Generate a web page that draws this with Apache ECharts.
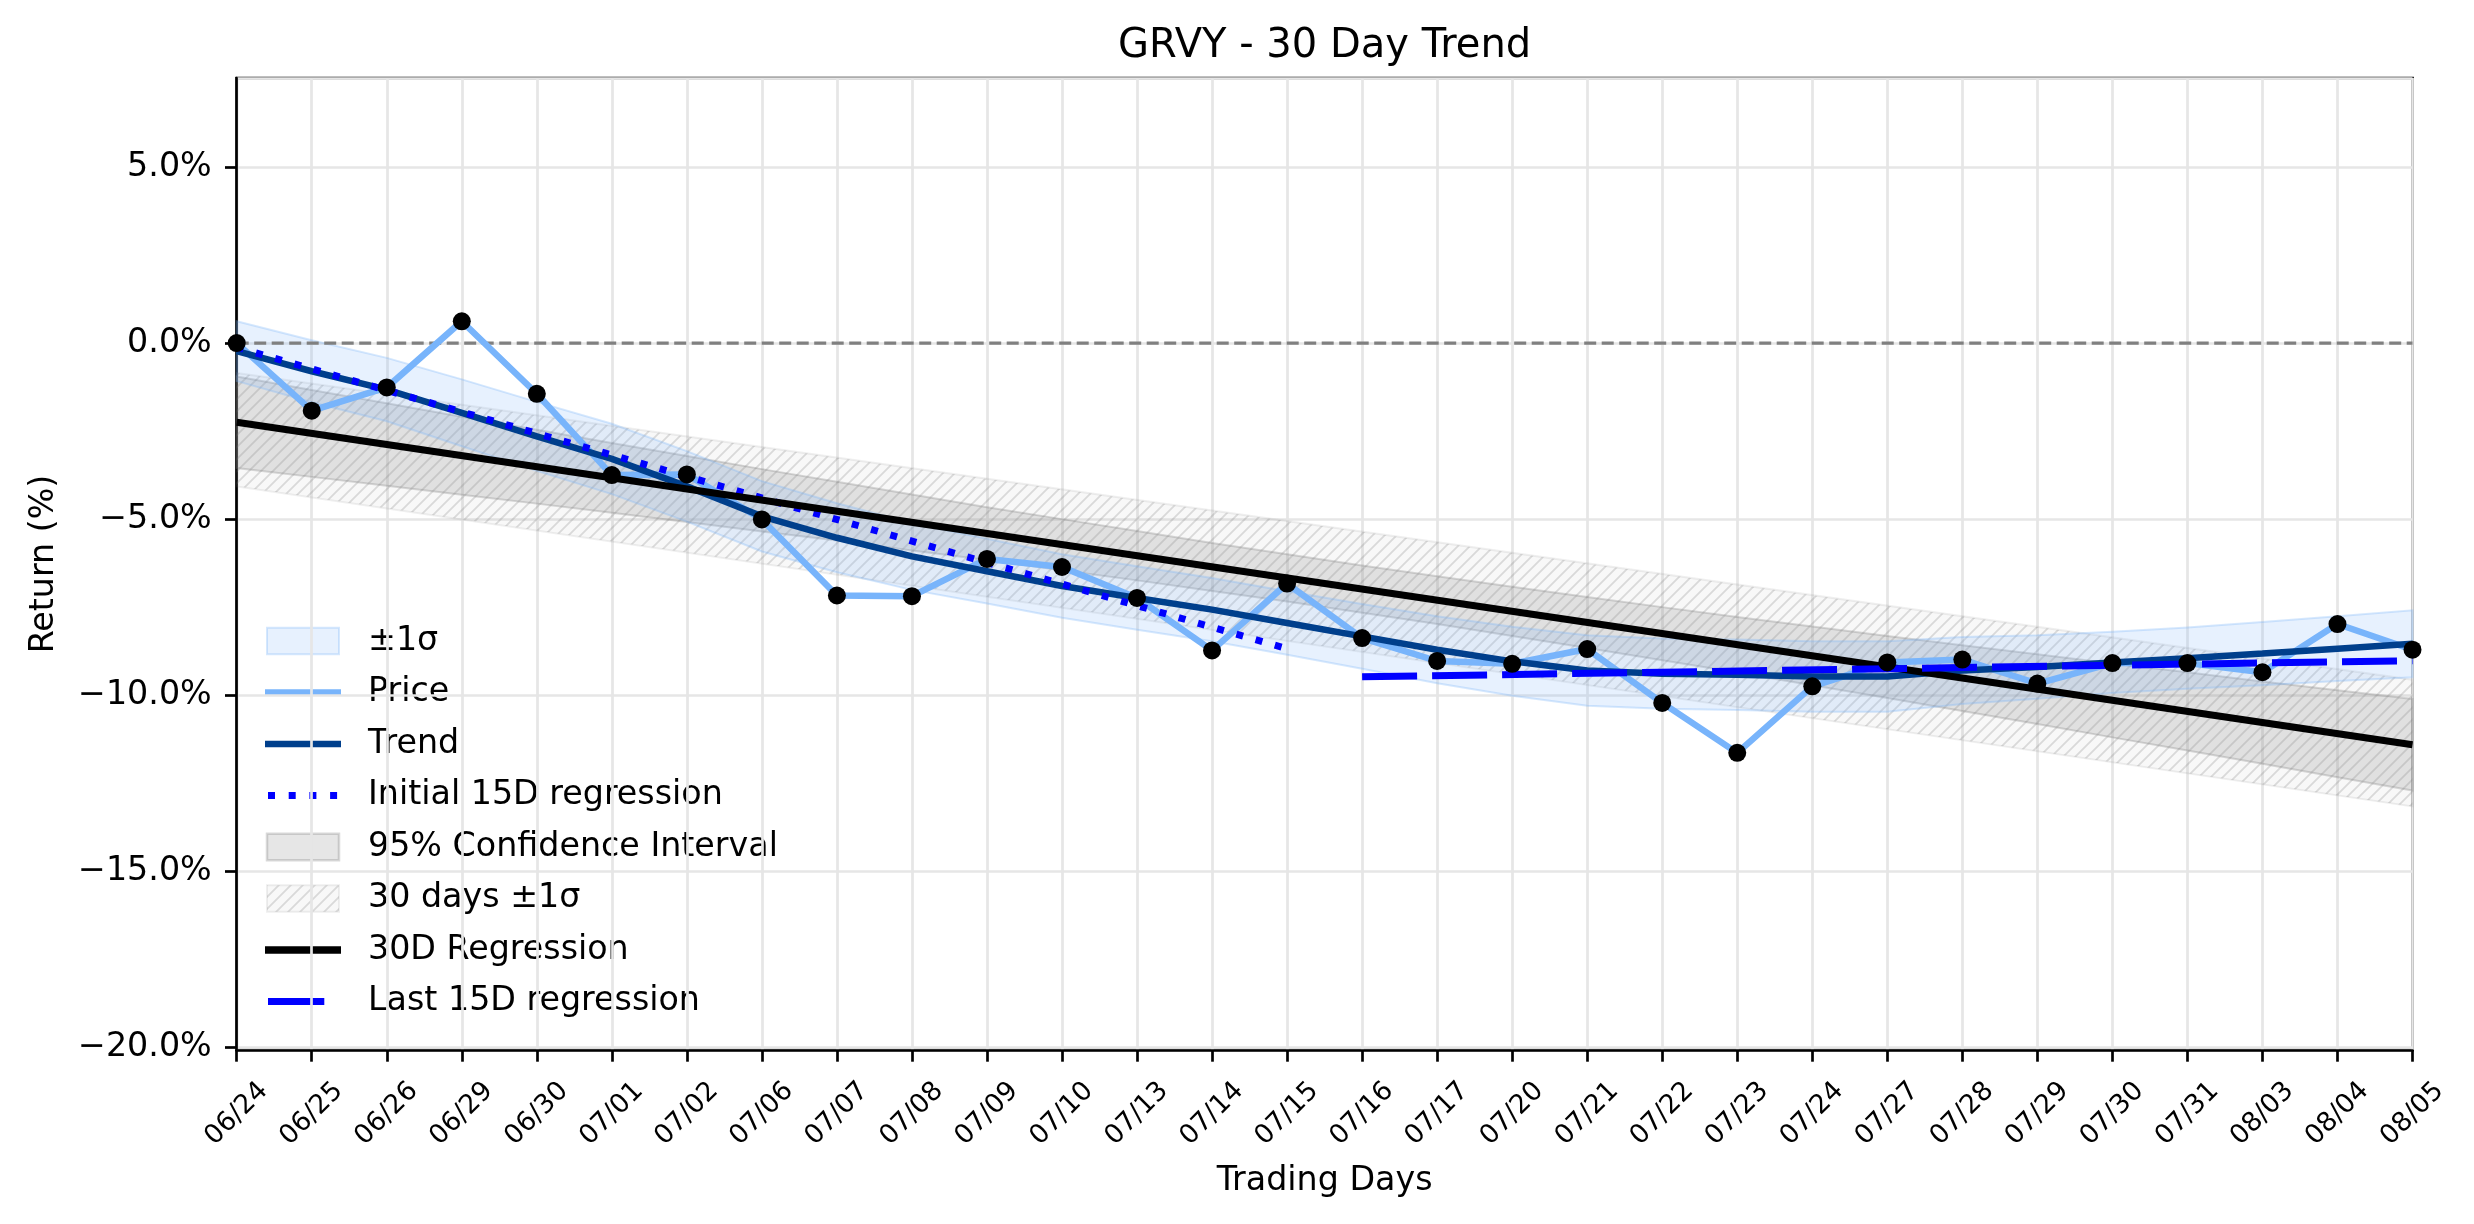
<!DOCTYPE html>
<html><head><meta charset="utf-8">
<script src="https://cdn.jsdelivr.net/npm/echarts@6/dist/echarts.min.js"></script>
<style>html,body{margin:0;padding:0;background:#fff}#c{width:2474px;height:1224px}</style>
</head><body><div id="c"></div>
<script>
// ---------------- data ----------------
const dates = ['06/24','06/25','06/26','06/29','06/30','07/01','07/02','07/06','07/07','07/08','07/09','07/10','07/13','07/14','07/15','07/16','07/17','07/20','07/21','07/22','07/23','07/24','07/27','07/28','07/29','07/30','07/31','08/03','08/04','08/05'];
const price = [0.00,-1.92,-1.26,0.62,-1.44,-3.75,-3.73,-5.01,-7.17,-7.19,-6.13,-6.36,-7.24,-8.73,-6.83,-8.38,-9.03,-9.11,-8.69,-10.22,-11.64,-9.75,-9.07,-8.99,-9.67,-9.09,-9.09,-9.35,-7.98,-8.71];
const trend = [-0.23,-0.80,-1.32,-1.98,-2.65,-3.29,-4.07,-4.92,-5.53,-6.06,-6.48,-6.90,-7.24,-7.57,-7.95,-8.33,-8.71,-9.04,-9.30,-9.39,-9.42,-9.47,-9.47,-9.30,-9.20,-9.07,-8.95,-8.82,-8.68,-8.54];
const sigma = [0.85,0.88,0.90,0.95,0.98,1.00,1.00,1.00,0.98,0.95,0.92,0.90,0.90,0.90,0.90,0.92,0.95,0.98,1.00,1.00,1.00,1.00,1.00,0.95,0.90,0.87,0.87,0.90,0.92,0.95];
const initial15 = [[0,-0.12],[14,-8.68]];
const last15 = [[15,-9.48],[29,-9.02]];
const reg30 = [[0,-2.25],[29,-11.41]];
const ciUpper = [-0.95,-1.33,-1.71,-2.09,-2.46,-2.84,-3.21,-3.58,-3.94,-4.30,-4.66,-5.00,-5.34,-5.68,-6.00,-6.32,-6.62,-6.92,-7.21,-7.50,-7.78,-8.05,-8.32,-8.58,-8.84,-9.10,-9.35,-9.61,-9.86,-10.11];
const ciLower = [-3.55,-3.80,-4.05,-4.31,-4.56,-4.82,-5.08,-5.35,-5.61,-5.89,-6.16,-6.45,-6.74,-7.04,-7.34,-7.66,-7.98,-8.32,-8.66,-9.01,-9.36,-9.72,-10.08,-10.45,-10.82,-11.20,-11.57,-11.95,-12.33,-12.71];
const hatchBand = [[0,-0.85,-4.07],[29,-9.56,-13.16]];
const zeroLine = [[0,0],[29,0]];
const legendLabels = ['\u00b11\u03c3','Price','Trend','Initial 15D regression','95% Confidence Interval','30 days \u00b11\u03c3','30D Regression','Last 15D regression'];
const titleText = 'GRVY - 30 Day Trend';
const xAxisName = 'Trading Days';
const yAxisName = 'Return (%)';

// ---------------- styles ----------------
const FONT = 'DejaVu Sans';
const C_PRICE = '#78b4fb', C_TREND = '#003f8c', C_BLUE = '#0000ff';
const BLUE_FILL = 'rgba(120,180,250,0.18)', BLUE_EDGE = 'rgba(120,180,250,0.30)';
const CI_FILL = 'rgba(128,128,128,0.20)', CI_EDGE = 'rgba(128,128,128,0.30)';
const HATCH_FILL = 'rgba(128,128,128,0.06)', HATCH_EDGE = 'rgba(128,128,128,0.13)';

function makeHatch(step, color, lw) {
  const c = document.createElement('canvas');
  c.width = step; c.height = step;
  const g = c.getContext('2d');
  g.strokeStyle = color; g.lineWidth = lw; g.lineCap = 'square';
  g.beginPath();
  g.moveTo(-step, step * 2); g.lineTo(step * 2, -step);
  g.moveTo(-step * 2, step * 2); g.lineTo(step, -step);
  g.moveTo(0, step * 2); g.lineTo(step * 3, -step);
  g.stroke();
  return c;
}
const hatchImg = makeHatch(12, 'rgba(128,128,128,0.26)', 1.8);
const hatchPattern = {image: hatchImg, repeat: 'repeat'};

const blueRows = trend.map((t, i) => [i, t + sigma[i], t - sigma[i]]);
const ciRows = ciUpper.map((u, i) => [i, u, ciLower[i]]);

function bandSeries(name, rows, styles, z) {
  return {
    type: 'custom', name: name, data: rows, z: z, silent: true,
    encode: {x: 0, y: [1, 2]},
    renderItem: function (params, api) {
      if (params.dataIndex !== 0) return null;
      const top = rows.map(r => api.coord([r[0], r[1]]));
      const bot = rows.map(r => api.coord([r[0], r[2]])).reverse();
      const pts = top.concat(bot);
      return {type: 'group', children: styles.map(s => ({type: 'polygon', shape: {points: pts}, style: s}))};
    }
  };
}

const chart = echarts.init(document.getElementById('c'), null, {renderer: 'canvas'});

const mctx = document.createElement('canvas').getContext('2d');
mctx.font = '40px "' + FONT + '"';
const titleW = mctx.measureText(titleText).width;

const plotL = 236.7, plotR = 2412.5, plotT = 78, plotB = 1050;

// legend (drawn as graphic elements)
const legX = 267, legW = 72, legTextX = 368, legY0 = 641, legStep = 51.5;
const legChildren = [];
legendLabels.forEach((lab, k) => {
  const y = legY0 + k * legStep;
  legChildren.push({type: 'text', x: legTextX, y: y, style: {text: lab, font: '33.3px "' + FONT + '"', fill: '#000', textVerticalAlign: 'middle', textAlign: 'left'}});
});
function legRect(k, styles) {
  const y = legY0 + k * legStep;
  styles.forEach(s => legChildren.push({type: 'rect', shape: {x: legX, y: y - 13.3, width: legW, height: 26.6}, style: s}));
}
function legLine(k, x1, x2, style) {
  const y = legY0 + k * legStep;
  legChildren.push({type: 'line', shape: {x1: x1, y1: y, x2: x2, y2: y}, style: style});
}
legRect(0, [{fill: BLUE_FILL, stroke: BLUE_EDGE, lineWidth: 2}]);
legLine(1, 265, 341, {stroke: C_PRICE, lineWidth: 6.5});
legLine(2, 265, 341, {stroke: C_TREND, lineWidth: 6.7});
legLine(3, 268, 341, {stroke: C_BLUE, lineWidth: 7, lineDash: [7, 13.7]});
legRect(4, [{fill: CI_FILL, stroke: CI_EDGE, lineWidth: 2.5}]);
legRect(5, [{fill: HATCH_FILL, stroke: HATCH_EDGE, lineWidth: 2}, {fill: hatchPattern}]);
legLine(6, 265, 341, {stroke: '#000', lineWidth: 7.3});
legLine(7, 268, 324.3, {stroke: C_BLUE, lineWidth: 7});

const fmtPct = v => (v < 0 ? '\u2212' : '') + Math.abs(v).toFixed(1) + '%';

const option = {
  animation: false,
  backgroundColor: '#fff',
  title: {
    text: titleText, left: 1324.6 - titleW / 2, top: 27, padding: 0,
    textStyle: {fontFamily: FONT, fontSize: 40, fontWeight: 'normal', color: '#000'}
  },
  grid: {left: plotL, right: 2474 - plotR, top: plotT, bottom: 1224 - plotB, show: true, borderColor: '#000', borderWidth: 2.7, backgroundColor: 'transparent', containLabel: false, outerBoundsMode: 'none'},
  xAxis: {
    type: 'value', min: 0, max: dates.length - 1, interval: 1,
    name: xAxisName, nameLocation: 'middle', nameGap: 115,
    nameTextStyle: {fontFamily: FONT, fontSize: 33.3, color: '#000'},
    axisLine: {show: true, onZero: false, lineStyle: {color: '#000', width: 2.7}},
    axisTick: {show: true, inside: false, length: 11.7, lineStyle: {color: '#000', width: 2.7}},
    axisLabel: {
      rotate: 45, align: 'center', verticalAlign: 'middle', margin: 64,
      fontFamily: FONT, fontSize: 26.7, color: '#000',
      formatter: v => dates[Math.round(v)] || ''
    },
    splitLine: {show: true, lineStyle: {color: '#e6e6e6', width: 2.7}}
  },
  yAxis: {
    type: 'value', min: -20.08, max: 7.53, splitNumber: 6,
    name: yAxisName, nameLocation: 'middle', nameGap: 176,
    nameTextStyle: {fontFamily: FONT, fontSize: 33.3, color: '#000'},
    axisLine: {show: true, onZero: false, lineStyle: {color: '#000', width: 2.7}},
    axisTick: {show: true, inside: false, length: 11.7, lineStyle: {color: '#000', width: 2.7}},
    axisLabel: {
      margin: 25, fontFamily: FONT, fontSize: 33.3, color: '#000',
      showMinLabel: false, showMaxLabel: false, formatter: fmtPct
    },
    splitLine: {show: true, lineStyle: {color: '#e6e6e6', width: 2.7}}
  },
  series: [
    bandSeries('30 days \u00b11\u03c3', hatchBand, [{fill: HATCH_FILL, stroke: HATCH_EDGE, lineWidth: 2}, {fill: hatchPattern}], 1),
    bandSeries('95% Confidence Interval', ciRows, [{fill: CI_FILL, stroke: CI_EDGE, lineWidth: 2}], 1),
    bandSeries('\u00b11\u03c3', blueRows, [{fill: BLUE_FILL, stroke: BLUE_EDGE, lineWidth: 2}], 1),
    {type: 'line', name: 'zero', data: zeroLine, z: 2, symbol: 'none', silent: true,
     lineStyle: {color: '#808080', width: 3.3, type: [12, 5.5]}},
    {type: 'line', name: 'Price', data: price.map((v, i) => [i, v]), z: 3, symbol: 'none',
     lineStyle: {color: C_PRICE, width: 6.5}},
    {type: 'line', name: 'Trend', data: trend.map((v, i) => [i, v]), z: 4, symbol: 'none',
     lineStyle: {color: C_TREND, width: 6.5}},
    {type: 'line', name: 'Initial 15D regression', data: initial15, z: 5, symbol: 'none',
     lineStyle: {color: C_BLUE, width: 7, type: [7, 13], cap: 'butt'}},
    {type: 'line', name: '30D Regression', data: reg30, z: 6, symbol: 'none',
     lineStyle: {color: '#000', width: 7}},
    {type: 'line', name: 'Last 15D regression', data: last15, z: 7, symbol: 'none',
     lineStyle: {color: C_BLUE, width: 7, type: [55, 15]}},
    {type: 'scatter', name: 'points', data: price.map((v, i) => [i, v]), z: 8, symbolSize: 18,
     itemStyle: {color: '#000', opacity: 1}}
  ],
  graphic: [{type: 'group', z: 100, children: legChildren}]
};
chart.setOption(option);
</script>
</body></html>
